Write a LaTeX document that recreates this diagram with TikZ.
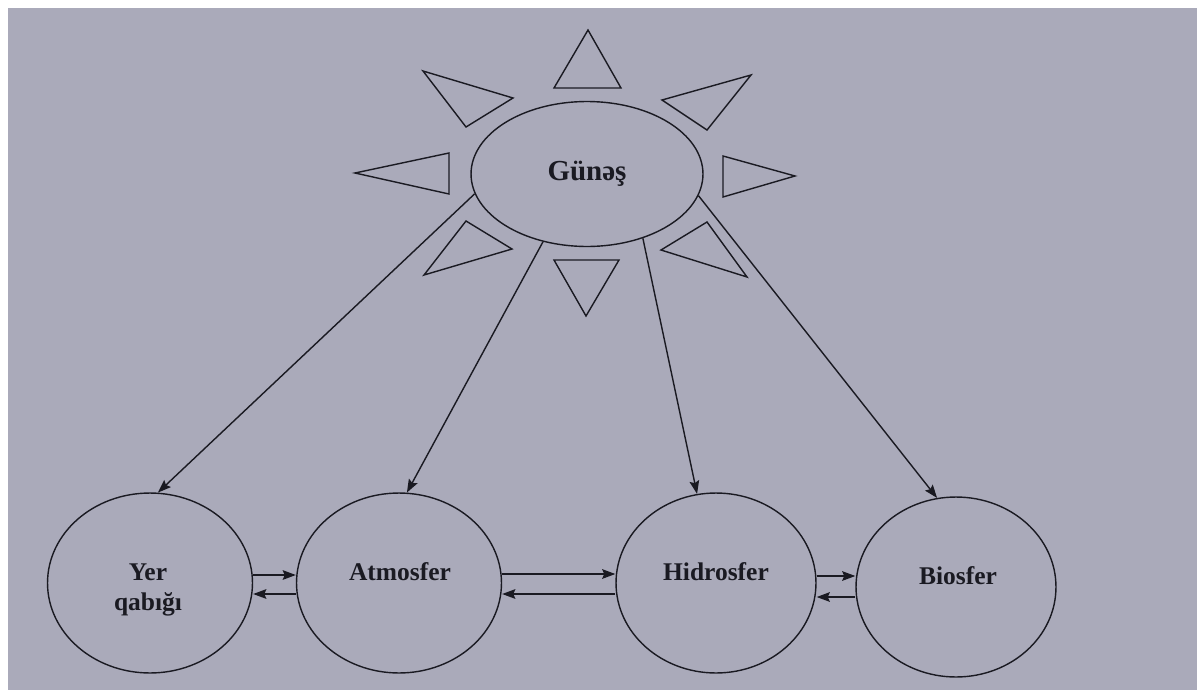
\documentclass[tikz,border=0pt]{standalone}
\usepackage{fontspec}
\setmainfont{Liberation Serif}
\usetikzlibrary{shapes.geometric,arrows.meta}
\definecolor{paper}{RGB}{170,170,186}
\definecolor{ink}{RGB}{26,26,34}
\begin{document}
\begin{tikzpicture}[x=0.02cm,y=-0.02cm,
  line width=0.8pt,
  sphere/.style={draw=ink,ellipse,inner sep=0pt,minimum width=4.1cm,minimum height=3.6cm},
  sunbody/.style={draw=ink,ellipse,inner sep=0pt,minimum width=4.64cm,minimum height=2.9cm,
    font=\fontsize{16.5}{19}\selectfont\bfseries,text=ink},
  lbl/.style={align=center,text=ink,font=\fontsize{14.5}{17}\selectfont\bfseries},
  ray/.style={draw=ink,line join=miter},
  flow/.style={draw=ink,-{Stealth[length=7.5pt,width=5.5pt,inset=1.2pt]}}]
% page and frame
\useasboundingbox (0,0) rectangle (1197,690);
\fill[white] (0,0) rectangle (1197,690);
\fill[paper] (8,8) rectangle (1197,690);

% the sun with its rays
\node[sunbody] (sun) at (587,174) {Günəş};
\draw[ray] (588,30) -- (554,88) -- (621,88) -- cycle;
\draw[ray] (423,71) -- (513,98) -- (466,127) -- cycle;
\draw[ray] (751,75) -- (662,100) -- (707,130) -- cycle;
\draw[ray] (355,173) -- (449,153) -- (449,194) -- cycle;
\draw[ray] (795,176) -- (723,156) -- (723,197) -- cycle;
\draw[ray] (466,221) -- (512,249) -- (424,275) -- cycle;
\draw[ray] (554,260) -- (619,260) -- (586,316) -- cycle;
\draw[ray] (707,222) -- (661,250) -- (747,277) -- cycle;

% the four spheres
\node[sphere] (yer) at (150,583) {};
\node[sphere] (atm) at (399,583) {};
\node[sphere,minimum width=4cm] (hid) at (716,583) {};
\node[sphere,minimum width=4cm] (bio) at (956,587) {};

\node[lbl] (yert) at (148,590) {Yer\\qabığı};
\node[lbl] (atmt) at (400,572) {Atmosfer};
\node[lbl] (hidt) at (716,572) {Hidrosfer};
\node[lbl] (biot) at (958,576) {Biosfer};

% energy from the sun
\draw[flow] (sun.190) -- (yer.85);
\draw[flow] (sun.237) -- (atm.85);
\draw[flow] (sun.311) -- (hid.102);
\draw[flow] (sun.349) -- (bio.102);

% exchange between neighbouring spheres
\draw[flow] (yer.east |- 0,575) -- (atm.west |- 0,575);
\draw[flow] (atm.west |- 0,594) -- (yer.east |- 0,594);
\draw[flow] (atm.east |- 0,574) -- (hid.west |- 0,574);
\draw[flow] (hid.west |- 0,594) -- (atm.east |- 0,594);
\draw[flow] (hid.east |- 0,576) -- (bio.west |- 0,576);
\draw[flow] (bio.west |- 0,597) -- (hid.east |- 0,597);
\end{tikzpicture}
\end{document}
